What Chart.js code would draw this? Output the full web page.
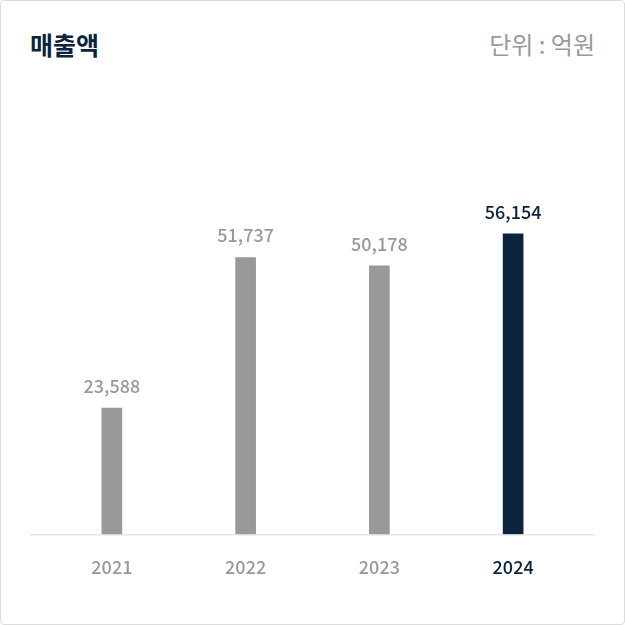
<!DOCTYPE html>
<html><head><meta charset="utf-8">
<script src="https://cdn.jsdelivr.net/npm/chart.js@4"></script>
<style>
  body { margin: 0; background: #fff; }
  .box { position: relative; width: 623px; height: 623px; border: 1px solid #ddd; border-radius: 4px; font-family: "Noto Sans CJK KR", "Noto Sans", sans-serif; }
  .title { position: absolute; left: 29px; top: 25px; font-size: 25px; font-weight: 700; color: #0c2340; }
  .unit { position: absolute; right: 29px; top: 25px; font-size: 24px; color: #999; }
  canvas { position: absolute; left: 0; top: 0; }
</style>
</head><body>
<div class="box">
  <div class="title">매출액</div>
  <div class="unit">단위 : 억원</div>
  <canvas id="c" width="623" height="623"></canvas>
</div>
<script>
const years = ["2021", "2022", "2023", "2024"];
const sales = [23588, 51737, 50178, 56154];
const gray = "#999999";
const navy = "#0c2340";
const colors = years.map((y, i) => i === years.length - 1 ? navy : gray);

// value labels + baseline
const extras = {
  id: "extras",
  afterDatasetsDraw(chart) {
    const ctx = chart.ctx;
    const meta = chart.getDatasetMeta(0);
    ctx.save();
    ctx.textAlign = "center";
    ctx.textBaseline = "bottom";
    meta.data.forEach((bar, i) => {
      ctx.fillStyle = colors[i];
      ctx.font = "500 18px 'Noto Sans CJK KR', 'Noto Sans', sans-serif";
      ctx.fillText(sales[i].toLocaleString("en-US"), bar.x, bar.y - 13);
    });
    const y = chart.chartArea.bottom + 0.5;
    ctx.strokeStyle = "#d8d8d8";
    ctx.lineWidth = 1;
    ctx.beginPath();
    ctx.moveTo(29, y);
    ctx.lineTo(594, y);
    ctx.stroke();
    ctx.restore();
  }
};

new Chart(document.getElementById("c"), {
  type: "bar",
  data: {
    labels: years,
    datasets: [{ data: sales, backgroundColor: colors, barThickness: 20 }]
  },
  options: {
    responsive: false,
    animation: false,
    layout: { padding: { left: 44, right: 44, top: 100, bottom: 32 } },
    plugins: { legend: { display: false }, tooltip: { enabled: false } },
    scales: {
      x: {
        grid: { display: false },
        border: { display: false },
        ticks: {
          padding: 14,
          color: colors,
          font: { size: 18, family: "'Noto Sans CJK KR', 'Noto Sans', sans-serif", weight: "500" }
        }
      },
      y: { display: false, min: 0, max: 81000 }
    }
  },
  plugins: [extras]
});
</script>
</body></html>
